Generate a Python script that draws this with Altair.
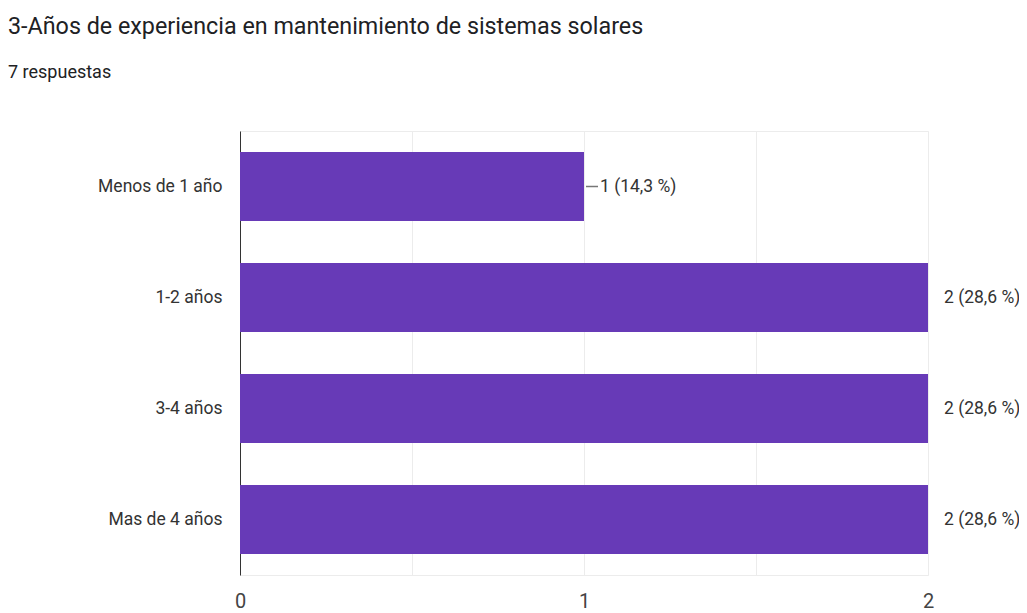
import altair as alt
import pandas as pd

categories = ["Menos de 1 año", "1-2 años", "3-4 años", "Mas de 4 años"]
counts = [1, 2, 2, 2]
labels = ["1 (14,3 %)", "2 (28,6 %)", "2 (28,6 %)", "2 (28,6 %)"]
leader = [True, False, False, False]
x_ticks = [0, 0.5, 1, 1.5, 2]

df = pd.DataFrame({"cat": categories, "n": counts, "lab": labels, "leader": leader})

FONT = "Roboto"

y_enc = alt.Y("cat:N", sort=categories, title=None,
              scale=alt.Scale(paddingInner=0.38, paddingOuter=0.19),
              axis=alt.Axis(labelFontSize=17.5, labelColor="#333333", labelFont=FONT,
                            labelPadding=18, ticks=False, domainColor="#333333",
                            domainWidth=1, grid=False))
x_enc = alt.X("n:Q", title=None, scale=alt.Scale(domain=[0, 2], nice=False),
              axis=alt.Axis(values=x_ticks,
                            labelExpr="datum.value % 1 == 0 ? format(datum.value, 'd') : ''",
                            labelFontSize=20, labelColor="#444444", labelFont=FONT,
                            labelPadding=16, ticks=False, domain=False,
                            grid=True, gridColor="#ececec", labelFlush=False))

base = alt.Chart(df)
bars = base.mark_bar(color="#673AB7").encode(x=x_enc, y=y_enc)
lead = base.transform_filter("datum.leader").mark_rule(
    color="#777777", strokeWidth=1.5, xOffset=2, x2Offset=14
).encode(x="n:Q", x2="n:Q", y=alt.Y("cat:N", sort=categories, bandPosition=0.5))
text = base.mark_text(align="left", baseline="middle", dx=16, fontSize=17.5,
                      color="#333333", font=FONT).encode(
    x="n:Q", y=alt.Y("cat:N", sort=categories), text="lab:N")

chart = (bars + lead + text).properties(
    width=688, height=444,
    autosize=alt.AutoSizeParams(type="none"),
    padding={"left": 232, "top": 123, "right": 91, "bottom": 38},
    title=alt.TitleParams(
        text="3-Años de experiencia en mantenimiento de sistemas solares",
        subtitle="7 respuestas",
        anchor="start", frame="group", dx=-232, offset=48,
        font=FONT, fontSize=23.3, fontWeight="normal", color="#202124",
        subtitleFont=FONT, subtitleFontSize=18, subtitleColor="#202124",
        subtitlePadding=25,
    ),
).configure_view(stroke="#ececec", strokeWidth=1)

chart.save("out.html", embed_options={"renderer": "svg", "actions": False})
